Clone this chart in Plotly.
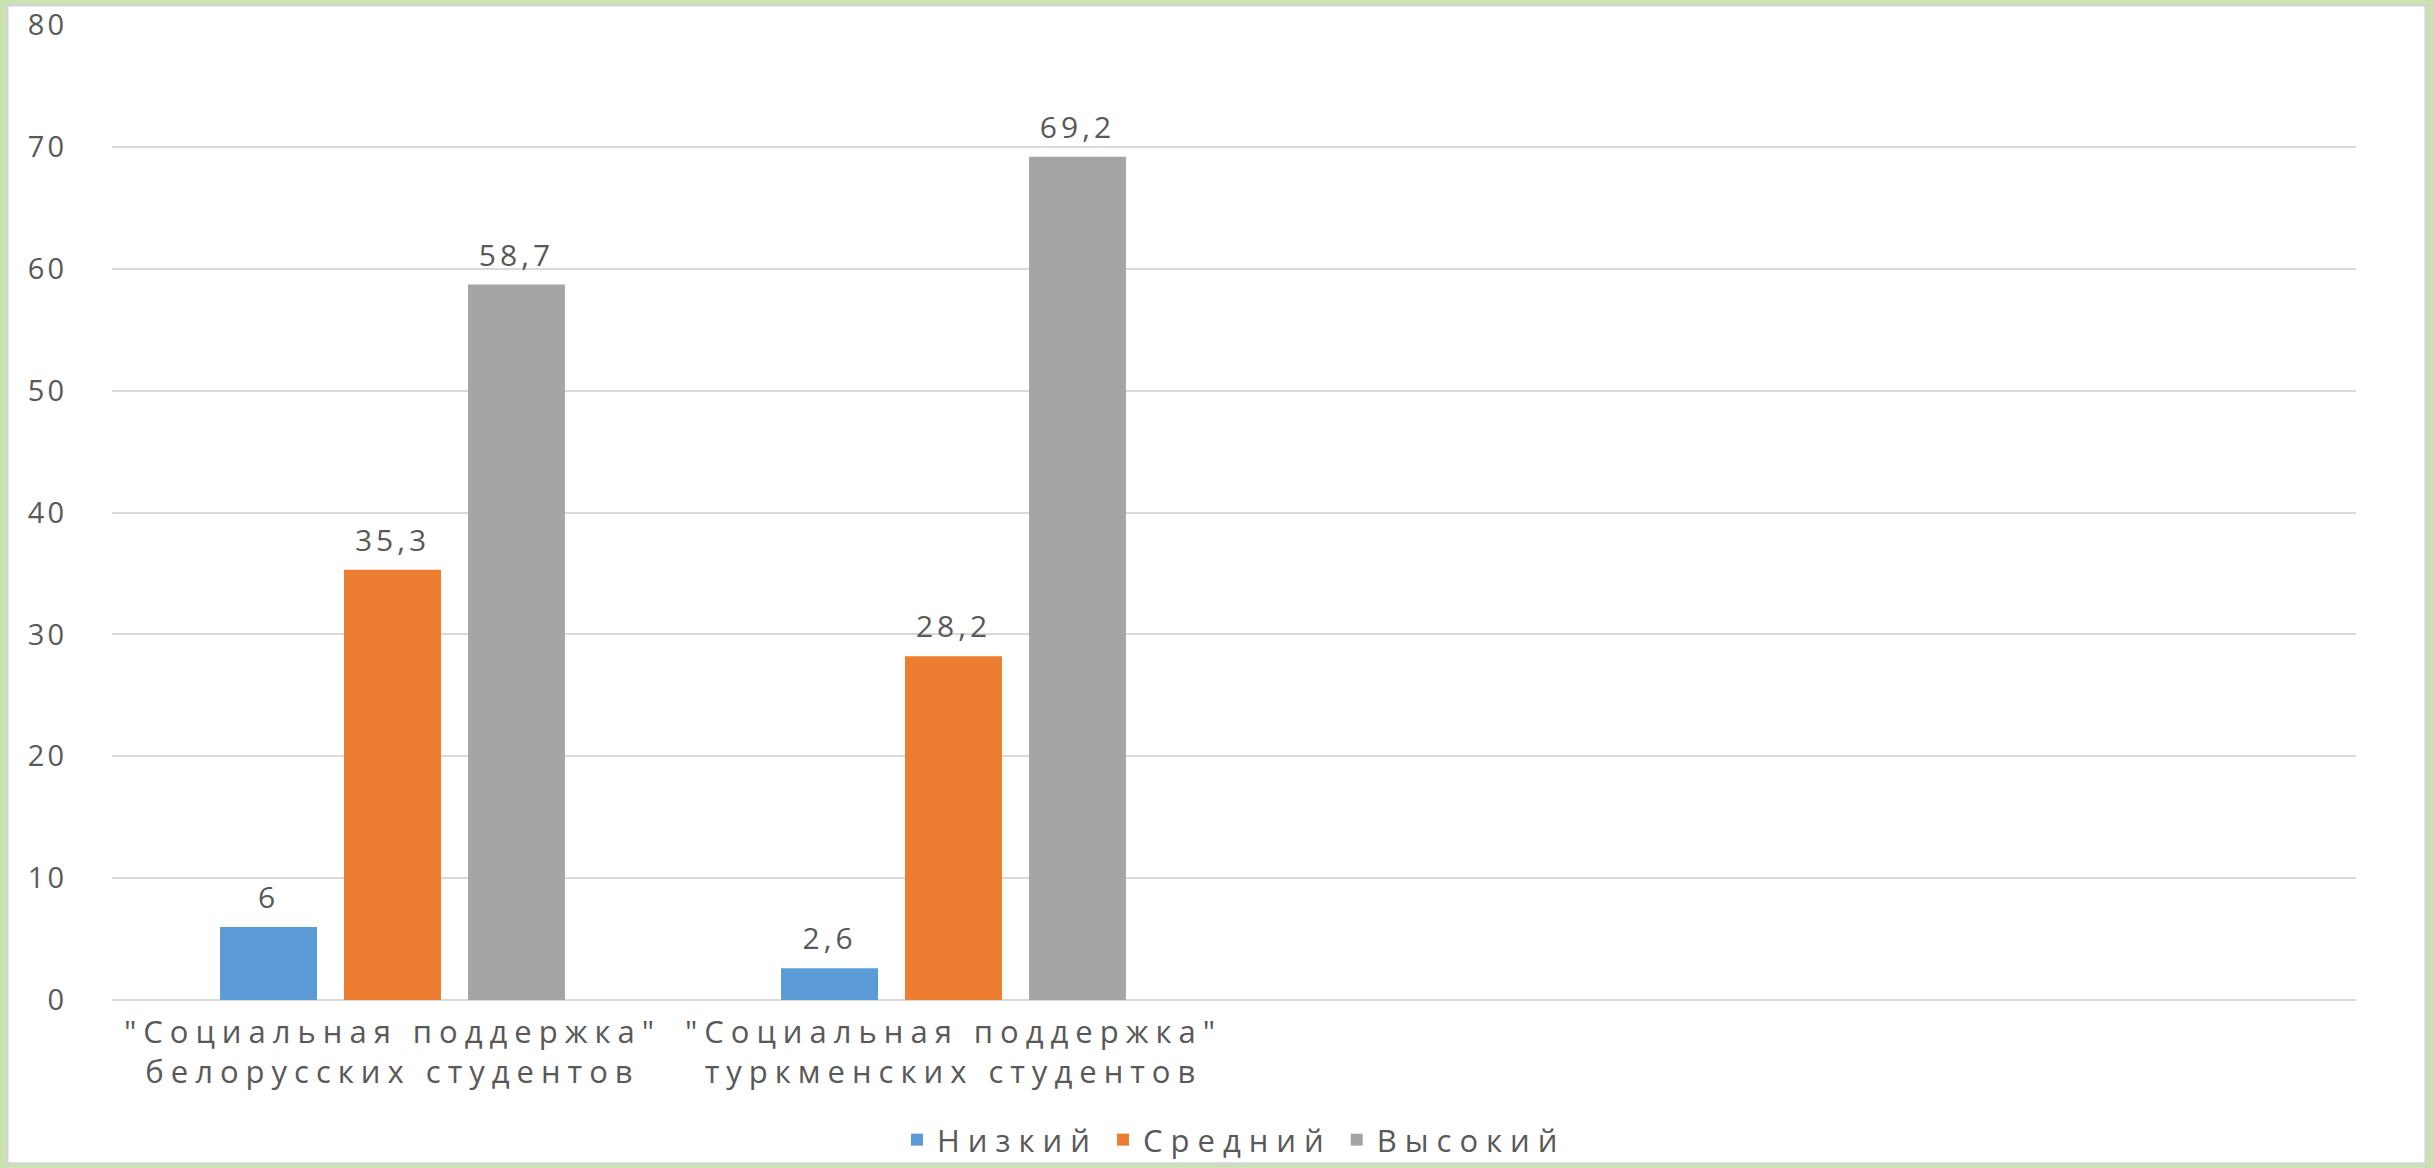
import plotly.graph_objects as go

# ==================================================
# DATA
# ==================================================
categories = [
    "\"Социальная поддержка\" белорусских студентов",
    "\"Социальная поддержка\" туркменских студентов",
]
category_lines = [
    ["\"Социальная поддержка\"", "белорусских студентов"],
    ["\"Социальная поддержка\"", "туркменских студентов"],
]
series_names = ["Низкий", "Средний", "Высокий"]
low = [6, 2.6]
mid = [35.3, 28.2]
high = [58.7, 69.2]
y_ticks = [0, 10, 20, 30, 40, 50, 60, 70, 80]

colors = ["#5B9BD5", "#ED7D31", "#A5A5A5"]
text_color = "#595959"
FONT = "Open Sans, DejaVu Sans, sans-serif"


def wide(s, spacing):
    # the reference text is stretched sideways, so spread the letters a bit
    return f"<span style='letter-spacing:{spacing}px'>{s}</span>"


def value_label(v):
    s = f"{v:g}".replace(".", ",")
    # big label line + a small blank line underneath to lift it off the bar
    return f"<span style='font-size:30px;letter-spacing:4px'>{s}</span><br> "


fig = go.Figure()

for name, vals, col in zip(series_names, [low, mid, high], colors):
    fig.add_trace(go.Bar(
        x=categories,
        y=vals,
        name=wide(name, 8),
        marker=dict(color=col, line=dict(width=0)),
        text=[value_label(v) for v in vals],
        textposition="outside",
        constraintext="none",
        textfont=dict(size=10, color=text_color, family=FONT),
        cliponaxis=False,
    ))

# -------------------
# Frame (light green border around white card)
# -------------------
fig.add_shape(
    type="rect", xref="paper", yref="paper",
    x0=-0.0468, x1=1.0312, y0=-0.168, y1=1.0205,
    fillcolor="white", line=dict(color="#D4D4D4", width=3),
    layer="below",
)

# -------------------
# Layout
# -------------------
fig.update_layout(
    width=2433,
    height=1168,
    margin=dict(l=112, r=77, t=25, b=168, autoexpand=False),
    paper_bgcolor="#C9E4AE",
    plot_bgcolor="white",
    barmode="group",
    bargap=0.337,
    bargroupgap=0.218,
    font=dict(family=FONT, color=text_color, size=26),
    showlegend=True,
    legend=dict(
        orientation="h",
        x=0.5, xanchor="center",
        y=-0.1436, yanchor="middle",
        font=dict(size=31, color=text_color, family=FONT),
        itemwidth=30,
        bgcolor="rgba(0,0,0,0)",
    ),
    xaxis=dict(
        type="category",
        range=[-0.5, 3.5],
        tickvals=categories,
        ticktext=["<br>".join(wide(l, 7) for l in lines) for lines in category_lines],
        showgrid=False,
        showline=False,
        zeroline=False,
        ticks="",
        ticklabelstandoff=11,
        tickfont=dict(size=31, color=text_color, family=FONT),
    ),
    yaxis=dict(
        range=[0, 80],
        tickvals=y_ticks,
        ticktext=[wide(str(t), 3) for t in y_ticks],
        showgrid=True,
        gridcolor="#D9D9D9",
        gridwidth=2,
        zeroline=True,
        zerolinecolor="#D9D9D9",
        zerolinewidth=2,
        showline=False,
        ticks="",
        ticklabelstandoff=44,
        tickfont=dict(size=29, color=text_color, family=FONT),
    ),
)

fig.write_html(
    "out.html",
    config={"displayModeBar": False},
    post_script="document.body.style.margin='0';document.body.style.overflow='hidden';",
)
